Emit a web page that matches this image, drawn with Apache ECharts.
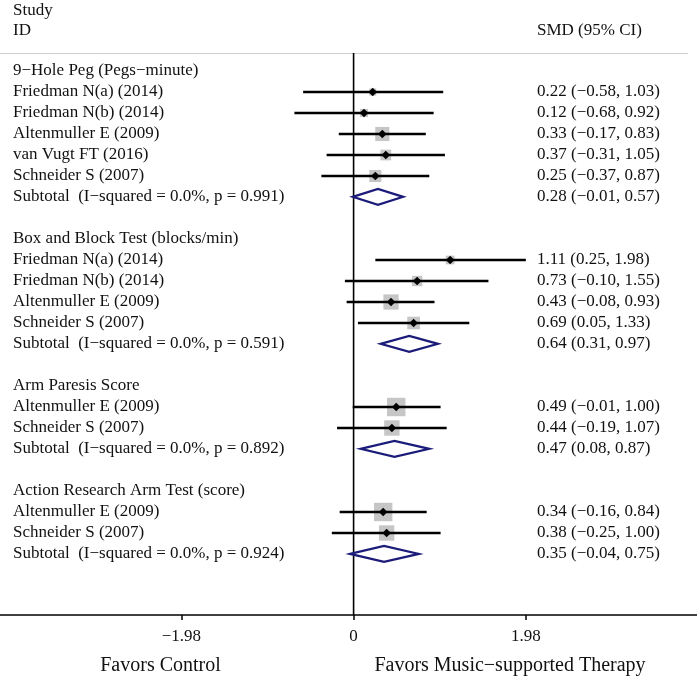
<!DOCTYPE html>
<html><head><meta charset="utf-8">
<script src="https://cdn.jsdelivr.net/npm/echarts@6/dist/echarts.min.js"></script>
<style>html,body{margin:0;padding:0;background:#fff}#c{width:697px;height:678px}</style>
</head><body><div id="c"></div>
<script>
// ---- data ----
const groupNames = ["9\u2212Hole Peg (Pegs\u2212minute)", "Box and Block Test (blocks/min)", "Arm Paresis Score", "Action Research Arm Test (score)"];
const groupOfStudy = [0,0,0,0,0, 1,1,1,1, 2,2, 3,3];
const studyIds = ["Friedman N(a) (2014)", "Friedman N(b) (2014)", "Altenmuller E (2009)", "van Vugt FT (2016)", "Schneider S (2007)",
                  "Friedman N(a) (2014)", "Friedman N(b) (2014)", "Altenmuller E (2009)", "Schneider S (2007)",
                  "Altenmuller E (2009)", "Schneider S (2007)",
                  "Altenmuller E (2009)", "Schneider S (2007)"];
const smd    = [0.22, 0.12, 0.33, 0.37, 0.25,  1.11, 0.73, 0.43, 0.69,  0.49, 0.44,  0.34, 0.38];
const ciLow  = [-0.58,-0.68,-0.17,-0.31,-0.37, 0.25,-0.10,-0.08, 0.05, -0.01,-0.19, -0.16,-0.25];
const ciHigh = [1.03, 0.92, 0.83, 1.05, 0.87,  1.98, 1.55, 0.93, 1.33,  1.00, 1.07,  0.84, 1.00];
const weights = [8.6, 11.3, 34.6, 20.1, 25.4,  13.3, 18.7, 40.3, 27.7,  59, 41,  59, 41];
const subI2  = [0.0, 0.0, 0.0, 0.0];
const subP   = [0.991, 0.591, 0.892, 0.924];
const subSmd = [0.28, 0.64, 0.47, 0.35];
const subLow = [-0.01, 0.31, 0.08, -0.04];
const subHigh= [0.57, 0.97, 0.87, 0.75];
const tickValues = [-1.98, 0, 1.98];

// ---- layout ----
const FONT = "Liberation Serif";
const TXT = "#111";
const fmt = v => (v < 0 ? "\u2212" : "") + Math.abs(v).toFixed(2);
const ciText = (e, l, h) => fmt(e) + " (" + fmt(l) + ", " + fmt(h) + ")";

const textRows = [];
const studyRows = [];
const subRows = [];
let row = 0;
groupNames.forEach((g, gi) => {
  textRows.push({row: row, left: g, right: ""});
  row++;
  studyIds.forEach((s, i) => {
    if (groupOfStudy[i] !== gi) return;
    studyRows[i] = row;
    textRows.push({row: row, left: s, right: ciText(smd[i], ciLow[i], ciHigh[i])});
    row++;
  });
  subRows[gi] = row;
  textRows.push({row: row, left: "Subtotal  (I\u2212squared = " + subI2[gi].toFixed(1) + "%, p = " + subP[gi].toFixed(3) + ")",
                 right: ciText(subSmd[gi], subLow[gi], subHigh[gi])});
  row += 2;
});

const Y_MIN = -0.848, Y_MAX = 25.91;

const chart = echarts.init(document.getElementById('c'), null, {renderer: 'canvas'});
chart.setOption({
  animation: false,
  backgroundColor: '#fff',
  grid: {left: 0, right: 0, top: 53, bottom: 63, containLabel: false},
  xAxis: {
    type: 'value', min: -4.064, max: 3.947, position: 'bottom',
    splitLine: {show: false},
    axisLine: {show: true, onZero: false, lineStyle: {color: '#000', width: 1.5}},
    axisTick: {show: true, customValues: tickValues, length: 5, lineStyle: {color: '#000', width: 1.5}},
    axisLabel: {show: true, customValues: tickValues, margin: 13, fontFamily: FONT, fontSize: 17, color: TXT,
                formatter: v => (v < 0 ? "\u2212" : "") + (Math.abs(v) === 0 ? "0" : Math.abs(v).toFixed(2))}
  },
  yAxis: {type: 'value', inverse: true, min: Y_MIN, max: Y_MAX, show: false},
  graphic: [
    {type: 'text', left: 13, top: 2, style: {text: 'Study', font: '17px "' + FONT + '"', fill: TXT}},
    {type: 'text', left: 13, top: 22, style: {text: 'ID', font: '17px "' + FONT + '"', fill: TXT}},
    {type: 'text', left: 537, top: 22, style: {text: 'SMD (95% CI)', font: '17px "' + FONT + '"', fill: TXT}},
    {type: 'line', shape: {x1: 0, y1: 53.5, x2: 688, y2: 53.5}, style: {stroke: '#d2cec9', lineWidth: 1}},
    {type: 'text', x: 160.5, y: 666, style: {text: 'Favors Control', font: '20px "' + FONT + '"', fill: TXT, textAlign: 'center', textVerticalAlign: 'middle'}},
    {type: 'text', x: 510, y: 666, style: {text: 'Favors Music\u2212supported Therapy', font: '20px "' + FONT + '"', fill: TXT, textAlign: 'center', textVerticalAlign: 'middle'}}
  ],
  series: [
    { // zero line
      type: 'custom', z: 1,
      data: [[0, Y_MIN, Y_MAX]],
      renderItem: (params, api) => {
        const p1 = api.coord([api.value(0), api.value(1)]);
        const p2 = api.coord([api.value(0), api.value(2)]);
        return {type: 'line', shape: {x1: p1[0], y1: p1[1], x2: p2[0], y2: p2[1]}, style: {stroke: '#000', lineWidth: 1.6}};
      }
    },
    { // text rows
      type: 'custom', z: 2, silent: true,
      data: textRows.map(r => [0, r.row]),
      renderItem: (params, api) => {
        const y = api.coord([0, api.value(1)])[1];
        const r = textRows[params.dataIndex];
        return {type: 'group', children: [
          {type: 'text', x: 13, y: y, style: {text: r.left, font: '17px "' + FONT + '"', fill: TXT, textAlign: 'left', textVerticalAlign: 'middle'}},
          {type: 'text', x: 537, y: y, style: {text: r.right, font: '17px "' + FONT + '"', fill: TXT, textAlign: 'left', textVerticalAlign: 'middle'}}
        ]};
      }
    },
    { // studies
      type: 'custom', z: 3,
      data: smd.map((e, i) => [e, ciLow[i], ciHigh[i], studyRows[i], weights[i]]),
      renderItem: (params, api) => {
        const r = api.value(3);
        const pe = api.coord([api.value(0), r]);
        const pl = api.coord([api.value(1), r]);
        const ph = api.coord([api.value(2), r]);
        const y = Math.round(pe[1]);
        const s = 2.4 * Math.sqrt(api.value(4));
        const d = 4.3;
        return {type: 'group', children: [
          {type: 'rect', shape: {x: pe[0] - s / 2, y: y - s / 2, width: s, height: s}, style: {fill: '#c6c6c6'}},
          {type: 'line', shape: {x1: pl[0], y1: y, x2: ph[0], y2: y}, style: {stroke: '#000', lineWidth: 2.4}},
          {type: 'polygon', shape: {points: [[pe[0] - d, y], [pe[0], y - d], [pe[0] + d, y], [pe[0], y + d]]}, style: {fill: '#000'}}
        ]};
      }
    },
    { // subtotal diamonds
      type: 'custom', z: 4,
      data: subSmd.map((e, i) => [e, subLow[i], subHigh[i], subRows[i]]),
      renderItem: (params, api) => {
        const r = api.value(3);
        const pe = api.coord([api.value(0), r]);
        const pl = api.coord([api.value(1), r]);
        const ph = api.coord([api.value(2), r]);
        const h = 8;
        return {type: 'polygon', shape: {points: [[pl[0], pl[1]], [pe[0], pe[1] - h], [ph[0], ph[1]], [pe[0], pe[1] + h]]},
                style: {fill: 'none', stroke: '#1b1b7a', lineWidth: 2.2, lineJoin: 'miter'}};
      }
    }
  ]
});
</script>
</body></html>
